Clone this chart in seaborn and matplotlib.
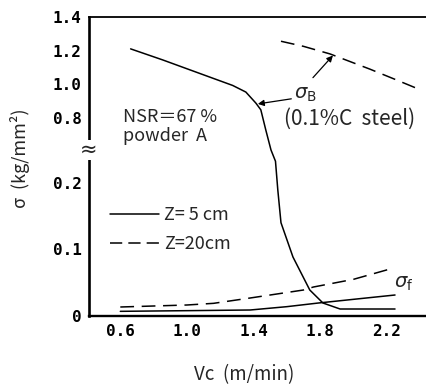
import numpy as np
import pandas as pd
import matplotlib
matplotlib.use("Agg")
import matplotlib.pyplot as plt
import seaborn as sns
from matplotlib.lines import Line2D

# ---------------- data ----------------
vc_sigB_5 = [0.662, 0.854, 1.155, 1.275, 1.354, 1.414, 1.444, 1.474, 1.505, 1.532,
             1.546, 1.565, 1.637, 1.738, 1.817, 1.92, 2.25]
sigB_5 = [1.21, 1.145, 1.037, 0.994, 0.955, 0.89, 0.85, 0.69, 0.505, 0.40,
          0.189, 0.14, 0.0885, 0.039, 0.0195, 0.0105, 0.0105]

vc_sigB_steel = [1.565, 1.70, 1.86, 2.10, 2.25, 2.41]
sigB_steel = [1.255, 1.225, 1.18, 1.09, 1.03, 0.965]

vc_sigf_5 = [0.6, 1.0, 1.38, 1.6, 1.79, 2.0, 2.25]
sigf_5 = [0.007, 0.008, 0.009, 0.014, 0.0195, 0.025, 0.0315]

vc_sigf_20 = [0.6, 1.0, 1.16, 1.38, 1.70, 1.76, 2.0, 2.22]
sigf_20 = [0.0135, 0.0165, 0.019, 0.027, 0.039, 0.0435, 0.055, 0.0705]

x_ticks = [0.6, 1.0, 1.4, 1.8, 2.2]
x_ticklabels = ["0.6", "1.0", "1.4", "1.8", "2.2"]
y_ticks = [0, 0.1, 0.2, 0.8, 1.0, 1.2, 1.4]
y_ticklabels = ["0", "0.1", "0.2", "0.8", "1.0", "1.2", "1.4"]
legend_labels = ["Z= 5 cm", "Z=20cm"]

# ---------------- broken (piecewise linear) y scale ----------------
D_BREAKS = np.array([0.0, 133.3, 197.7, 299.3])


def fwd(y):
    y = np.asarray(y, dtype=float)
    lo = y * (D_BREAKS[1] / 0.2)
    mid = D_BREAKS[1] + (y - 0.2) / 0.6 * (D_BREAKS[2] - D_BREAKS[1])
    hi = D_BREAKS[2] + (y - 0.8) / 0.6 * (D_BREAKS[3] - D_BREAKS[2])
    return np.where(y <= 0.2, lo, np.where(y <= 0.8, mid, hi))


def inv(d):
    d = np.asarray(d, dtype=float)
    lo = d / (D_BREAKS[1] / 0.2)
    mid = 0.2 + (d - D_BREAKS[1]) / (D_BREAKS[2] - D_BREAKS[1]) * 0.6
    hi = 0.8 + (d - D_BREAKS[2]) / (D_BREAKS[3] - D_BREAKS[2]) * 0.6
    return np.where(d <= D_BREAKS[1], lo, np.where(d <= D_BREAKS[2], mid, hi))


sns.set_theme(style="white")
plt.rcParams["font.family"] = ["Noto Sans CJK JP", "DejaVu Sans"]
plt.rcParams["mathtext.fontset"] = "dejavusans"

fig = plt.figure(figsize=(4.26, 3.85), dpi=100)
ax = fig.add_axes([88.5 / 426, (385 - 316) / 385, 1 - 88.5 / 426, (316 - 16.7) / 385])
ax.set_yscale("function", functions=(fwd, inv))

LW = 1.1
DASH = (0, (9, 5))

df_b5 = pd.DataFrame({"Vc": vc_sigB_5, "sigma": sigB_5})
df_bs = pd.DataFrame({"Vc": vc_sigB_steel, "sigma": sigB_steel})
df_f5 = pd.DataFrame({"Vc": vc_sigf_5, "sigma": sigf_5})
df_f20 = pd.DataFrame({"Vc": vc_sigf_20, "sigma": sigf_20})

sns.lineplot(data=df_b5, x="Vc", y="sigma", ax=ax, color="black", lw=LW,
             estimator=None, sort=False)
sns.lineplot(data=df_bs, x="Vc", y="sigma", ax=ax, color="black", lw=LW,
             estimator=None, linestyle=DASH)
sns.lineplot(data=df_f5, x="Vc", y="sigma", ax=ax, color="black", lw=LW,
             estimator=None)
sns.lineplot(data=df_f20, x="Vc", y="sigma", ax=ax, color="black", lw=LW,
             estimator=None, linestyle=DASH)

ax.set_xlim(0.409, 2.436)
ax.set_ylim(0, 1.4)
ax.set_xticks(x_ticks)
ax.set_yticks(y_ticks)
ax.set_xlabel("")
ax.set_ylabel("")

tick_font = dict(family="DejaVu Sans Mono", weight="bold", size=11.5)
ax.set_xticklabels(x_ticklabels, fontdict=tick_font)
ax.set_yticklabels(y_ticklabels, fontdict=tick_font)
ax.tick_params(axis="x", direction="in", length=6.5, width=1.0, pad=6, colors="black")
ax.tick_params(axis="y", direction="in", length=5, width=1.0, pad=5, colors="black")
ax.minorticks_off()

for side, w in (("left", 1.9), ("bottom", 1.7), ("top", 1.3)):
    ax.spines[side].set_visible(True)
    ax.spines[side].set_linewidth(w)
    ax.spines[side].set_color("black")
ax.spines["right"].set_visible(False)

# break mark on the y axis
ax.text(0.0, 0.505, "\u2248", transform=ax.get_yaxis_transform(), ha="center",
        va="center", fontsize=15, family="DejaVu Sans", clip_on=False, zorder=5,
        bbox=dict(boxstyle="square,pad=0.0", fc="white", ec="none"))

# axis labels
fig.text(20 / 426, 1 - 158 / 385, "\u03c3  (kg/mm\u00b2)", rotation=90,
         ha="center", va="center", fontsize=13)
fig.text(244 / 426, 1 - 375 / 385, "Vc  (m/min)", ha="center", va="center",
         fontsize=13.5)

# annotations
ax.text(0.614, 0.808, "NSR\uff1d67 %", ha="left", va="center", fontsize=13)
ax.text(0.614, 0.635, "powder  A", ha="left", va="center", fontsize=13)

ax.text(1.71, 0.944, r"$\sigma_{\rm B}$", ha="center", va="center", fontsize=14)
ax.text(1.976, 0.80, "(0.1%C  steel)", ha="center", va="center", fontsize=15)
ax.annotate("", xy=(1.426, 0.885), xytext=(1.627, 0.915),
            arrowprops=dict(arrowstyle="-|>", color="black", lw=0.9,
                            mutation_scale=9, shrinkA=0, shrinkB=0))
ax.annotate("", xy=(1.877, 1.171), xytext=(1.757, 1.04),
            arrowprops=dict(arrowstyle="-|>", color="black", lw=0.9,
                            mutation_scale=9, shrinkA=0, shrinkB=0))
ax.text(2.30, 0.051, r"$\sigma_{\rm f}$", ha="center", va="center", fontsize=14)

# legend
handles = [Line2D([], [], color="black", lw=LW),
           Line2D([], [], color="black", lw=LW, linestyle=(0, (8, 4)))]
ax.legend(handles, legend_labels, loc="upper left",
          bbox_to_anchor=((110 - 88.5) / 337.5, (316 - 206) / 299.3),
          frameon=False, borderaxespad=0, borderpad=0, handlelength=2.7,
          handletextpad=0.3, labelspacing=0.62, fontsize=13)

fig.savefig("out.png", dpi=100)
